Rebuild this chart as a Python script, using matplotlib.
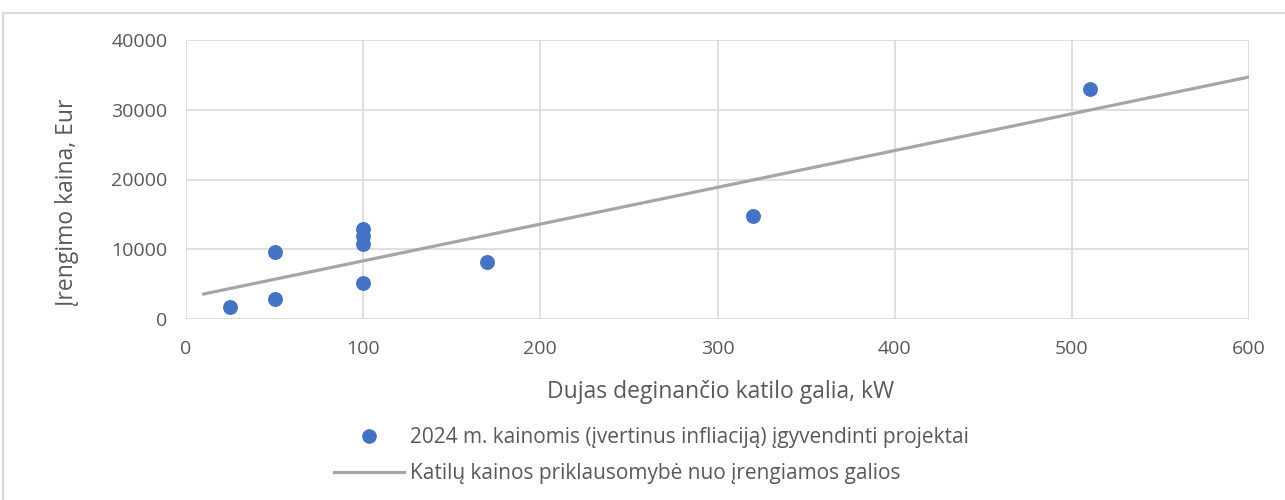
import numpy as np
import matplotlib
matplotlib.use("Agg")
import matplotlib.pyplot as plt
from matplotlib.patches import Rectangle
from matplotlib.lines import Line2D

# data
power_kw = [25, 50, 50, 100, 100, 100, 100, 170, 320, 510]
cost_eur = [1700, 2900, 9600, 5200, 10800, 11900, 12900, 8200, 14800, 33000]
trend_x = [10, 600]

x_ticks = [0, 100, 200, 300, 400, 500, 600]
y_ticks = [0, 10000, 20000, 30000, 40000]

plt.rcParams['font.family'] = ['Open Sans', 'DejaVu Sans']
txt = '#595959'
tick_fs = 14
title_fs = 16.5
leg_fs = 15

W, H = 1285, 500
fig = plt.figure(figsize=(W / 100, H / 100), dpi=100)
ax = fig.add_axes([186 / W, 1 - 319 / H, (1249 - 186) / W, (319 - 40) / H])

# linear trend line fitted to the points (as Excel does)
k, b = np.polyfit(power_kw, cost_eur, 1)
tx = np.array(trend_x)
ax.plot(tx, k * tx + b, color='#a5a5a5', lw=2.3, zorder=2)
ax.scatter(power_kw, cost_eur, s=115, color='#4472c4', zorder=3, linewidths=0)

ax.set_xlim(0, 600)
ax.set_ylim(0, 40000)
ax.set_xticks(x_ticks)
ax.set_yticks(y_ticks)
ax.grid(True, color='#d9d9d9', lw=1.2, zorder=0)
ax.set_axisbelow(True)
for s in ax.spines.values():
    s.set_visible(False)
ax.tick_params(length=0, labelsize=tick_fs, labelcolor=txt)
ax.tick_params(axis='x', pad=15)
ax.tick_params(axis='y', pad=13.5)

fig.text(721 / W, 1 - 392 / H, 'Dujas deginančio katilo galia, kW', fontsize=title_fs,
         color=txt, ha='center', va='center')
fig.text(67 / W, 1 - 202 / H, 'Įrengimo kaina, Eur', fontsize=title_fs, color=txt,
         ha='center', va='center', rotation=90)

# outer chart border
fig.patches.append(Rectangle((3 / W, -0.1), 1.2, 1.1 - 13 / H, transform=fig.transFigure,
                             fill=False, edgecolor='#d9d9d9', lw=1.5))

# legend under the plot
h1 = Line2D([], [], marker='o', ls='none', color='#4472c4', markersize=9.5)
h2 = Line2D([], [], color='#a5a5a5', lw=2.3)
fpx = leg_fs * 100 / 72
fig.legend([h1, h2],
           ['2024 m. kainomis (įvertinus infliaciją) įgyvendinti projektai',
            'Katilų kainos priklausomybė nuo įrengiamos galios'],
           loc='upper left', bbox_to_anchor=(334 / W, 1 - 427 / H), frameon=False,
           fontsize=leg_fs, labelcolor=txt, borderpad=0, borderaxespad=0,
           handlelength=70 / fpx, handletextpad=6 / fpx, labelspacing=0.72)

fig.savefig('out.png', dpi=100)
